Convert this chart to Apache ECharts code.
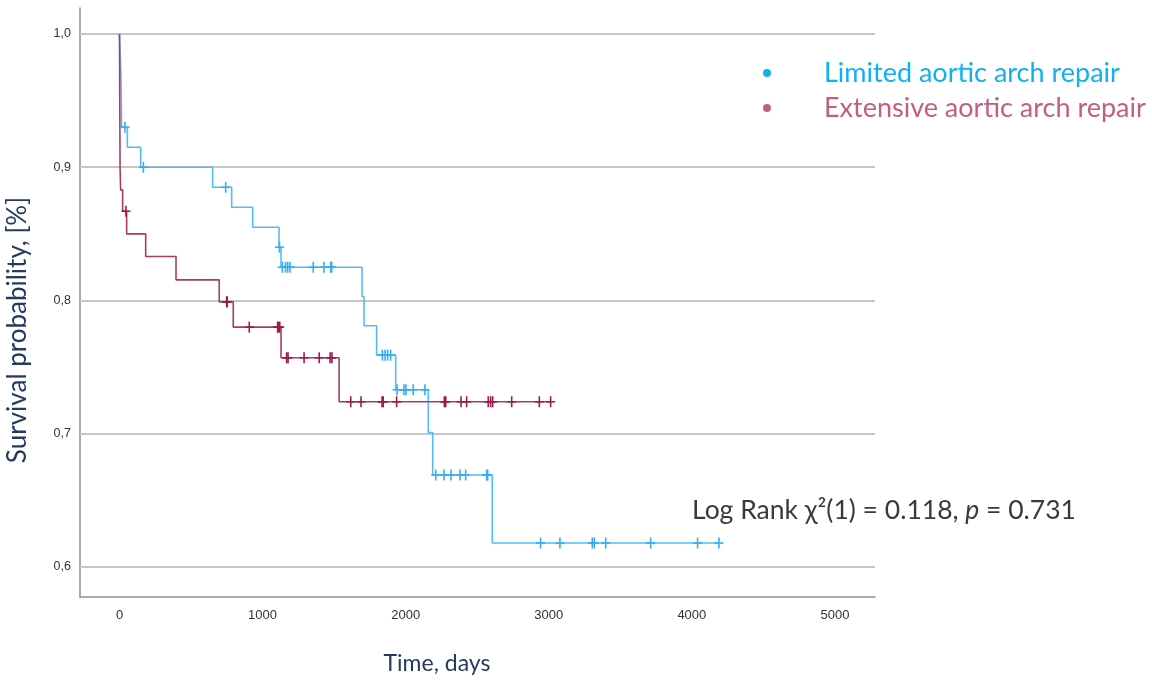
<!DOCTYPE html>
<html>
<head>
<meta charset="utf-8">
<script src="https://cdn.jsdelivr.net/npm/echarts@6/dist/echarts.min.js"></script>
<style>
html,body{margin:0;padding:0;background:#fff;}
#chart{width:1152px;height:680px;}
</style>
</head>
<body>
<div id="chart"></div>
<script>
// ---- data ----
const seriesNames = ['Limited aortic arch repair', 'Extensive aortic arch repair'];

const limitedTimes    = [0, 5, 10, 15, 55, 148, 651, 784, 931, 1115, 1129, 1695, 1709, 1797, 1930, 2158, 2189, 2605];
const limitedSurvival = [1.0, 0.985, 0.97, 0.93, 0.915, 0.900, 0.885, 0.870, 0.855, 0.840, 0.825, 0.803, 0.781, 0.759, 0.733, 0.701, 0.669, 0.618];
const limitedEnd = 4189;
const limitedCensored = [38, 167, 742, 1118, 1138, 1160, 1175, 1191, 1354, 1429, 1476, 1483, 1837, 1856, 1874, 1895, 1940, 1988, 2002, 2053, 2135, 2210, 2268, 2317, 2380, 2419, 2566, 2573, 2943, 3078, 3304, 3318, 3398, 3712, 4040, 4189];

const extensiveTimes    = [0, 4, 8, 22, 50, 183, 395, 697, 795, 1129, 1535];
const extensiveSurvival = [1.0, 0.900, 0.883, 0.867, 0.850, 0.833, 0.8155, 0.799, 0.780, 0.757, 0.724];
const extensiveEnd = 3013;
const extensiveCensored = [45, 749, 753, 907, 1105, 1112, 1120, 1168, 1178, 1290, 1396, 1472, 1485, 1616, 1688, 1835, 1843, 1937, 2270, 2280, 2387, 2426, 2577, 2594, 2608, 2741, 2934, 3013];

const xTicks = [0, 1000, 2000, 3000, 4000, 5000];
const yTicks = [0.6, 0.7, 0.8, 0.9, 1.0];

// ---- helpers ----
function stepData(times, surv, end) {
  const d = times.map((t, i) => [t, surv[i]]);
  d.push([end, surv[surv.length - 1]]);
  return d;
}
function survAt(times, surv, t) {
  let v = surv[0];
  for (let i = 0; i < times.length; i++) { if (times[i] <= t) v = surv[i]; }
  return v;
}
function censorData(censored, times, surv) {
  return censored.map(t => [t, survAt(times, surv, t)]);
}
function crossRenderer(color) {
  return function (params, api) {
    const p = api.coord([api.value(0), api.value(1)]);
    const st = { stroke: color, lineWidth: 1.6 };
    return {
      type: 'group',
      children: [
        { type: 'line', shape: { x1: p[0] - 4.5, y1: p[1], x2: p[0] + 4.5, y2: p[1] }, style: st },
        { type: 'line', shape: { x1: p[0], y1: p[1] - 5.5, x2: p[0], y2: p[1] + 5.5 }, style: st }
      ]
    };
  };
}

const blueLine = '#52bcf4';
const blueMark = '#33aef0';
const redLine = '#ac3a68';
const redMark = '#9a1b4c';

const chart = echarts.init(document.getElementById('chart'), null, { renderer: 'canvas' });
const option = {
  animation: false,
  backgroundColor: '#ffffff',
  grid: { left: 80, right: 277, top: 8, bottom: 83, containLabel: false },
  xAxis: {
    type: 'value',
    min: -276, max: 5280,
    axisLine: { show: true, onZero: false, lineStyle: { color: '#8e8e8e', width: 1.5 } },
    axisTick: { show: false },
    splitLine: { show: false },
    axisLabel: {
      customValues: xTicks,
      margin: 12,
      color: '#333333',
      fontFamily: 'Liberation Sans Narrow, Liberation Sans, Arial, sans-serif',
      fontSize: 13,
      formatter: v => String(v)
    }
  },
  yAxis: {
    type: 'value',
    min: 0.5775, max: 1.0195,
    axisLine: { show: true, onZero: false, lineStyle: { color: '#8e8e8e', width: 1.5 } },
    axisTick: { show: false },
    splitLine: { show: false },
    axisLabel: {
      customValues: yTicks,
      margin: 9,
      color: '#333333',
      fontFamily: 'Liberation Sans, Arial, sans-serif',
      fontSize: 12.5,
      formatter: v => v.toFixed(1).replace('.', ',')
    }
  },
  legend: {
    orient: 'vertical',
    left: 758, top: 54,
    itemWidth: 104, itemHeight: 8, itemGap: 7,
    icon: 'circle',
    textStyle: { fontFamily: 'Lato, sans-serif', fontSize: 27, lineHeight: 28, padding: [0, 0, 0, 0] },
    data: [
      { name: seriesNames[0], itemStyle: { color: '#0fb0ee' }, textStyle: { color: '#12b0ee' } },
      { name: seriesNames[1], itemStyle: { color: '#c45d85' }, textStyle: { color: '#c45d85' } }
    ],
    selectedMode: false
  },
  graphic: [
    {
      type: 'text', x: 18, y: 330, rotation: Math.PI / 2,
      style: { text: 'Survival probability, [%]', fill: '#243a63', font: '26px Lato, sans-serif', align: 'center', verticalAlign: 'middle' }
    },
    {
      type: 'text', x: 437, y: 664,
      style: { text: 'Time, days', fill: '#243a63', font: '23px Lato, sans-serif', align: 'center', verticalAlign: 'middle' }
    },
    {
      type: 'text', x: 692, y: 510,
      style: {
        text: '{n|Log Rank χ²(1) = 0.118, }{i|p}{n| = 0.731}',
        verticalAlign: 'middle',
        rich: {
          n: { fontFamily: 'Lato, sans-serif', fontSize: 26.5, fill: '#3a3a3a', color: '#3a3a3a' },
          i: { fontFamily: 'Lato, sans-serif', fontSize: 26.5, fontStyle: 'italic', fill: '#3a3a3a', color: '#3a3a3a' }
        }
      }
    }
  ],
  series: [
    {
      name: 'gridlines',
      type: 'line',
      data: [],
      z: 1,
      silent: true,
      markLine: {
        silent: true,
        z: 1,
        symbol: ['none', 'none'],
        label: { show: false },
        lineStyle: { color: '#c6c6c6', width: 2, type: 'solid' },
        data: yTicks.map(v => ({ yAxis: v }))
      }
    },
    {
      name: seriesNames[0],
      type: 'line',
      step: 'end',
      showSymbol: false,
      symbol: 'none',
      z: 3,
      color: '#0fb0ee',
      lineStyle: { color: blueLine, width: 1.6 },
      data: stepData(limitedTimes, limitedSurvival, limitedEnd)
    },
    {
      name: seriesNames[1],
      type: 'line',
      step: 'end',
      showSymbol: false,
      symbol: 'none',
      z: 4,
      color: '#c45d85',
      lineStyle: { color: redLine, width: 1.6 },
      data: stepData(extensiveTimes, extensiveSurvival, extensiveEnd)
    },
    {
      name: 'limited censored',
      type: 'custom',
      z: 5,
      renderItem: crossRenderer(blueMark),
      data: censorData(limitedCensored, limitedTimes, limitedSurvival)
    },
    {
      name: 'extensive censored',
      type: 'custom',
      z: 6,
      renderItem: crossRenderer(redMark),
      data: censorData(extensiveCensored, extensiveTimes, extensiveSurvival)
    }
  ]
};
chart.setOption(option);
</script>
</body>
</html>
